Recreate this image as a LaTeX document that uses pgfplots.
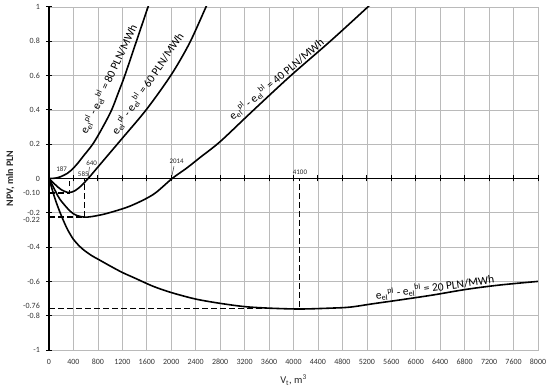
\documentclass[border=0pt]{standalone}
\usepackage{fontspec}
\setmainfont{Carlito}
\usepackage{pgfplots}
\pgfplotsset{compat=1.18}
\newcommand{\dif}[1]{e\textsubscript{el}\textsuperscript{pl} - e\textsubscript{el}\textsuperscript{bl} = #1 PLN/MWh}
\begin{document}
\begin{tikzpicture}
\begin{axis}[
  name=ax,
  scale only axis, width=489bp, height=343bp,
  xmin=0, xmax=8000, ymin=-1, ymax=1,
  xtick={0,400,...,8000},
  ytick={-1,-0.8,-0.6,-0.4,-0.2,0,0.2,0.4,0.6,0.8,1},
  yticklabels={-1,-0.8,-0.6,-0.4,-0.2,0,0.2,0.4,0.6,0.8,1},
  extra y ticks={-0.085,-0.24,-0.74},
  extra y tick labels={-0.10,-0.22,-0.76},
  extra y tick style={grid=none},
  grid=major, grid style={black!27, line width=0.7pt},
  axis line style={black!27, line width=0.7pt},
  tick style={draw=none},
  /pgf/number format/assume math mode=true,
  /pgf/number format/1000 sep={},
  ticklabel style={font=\fontsize{8}{9}\selectfont, text=black!80},
  xticklabel style={anchor=center, yshift=-12bp},
  yticklabel style={anchor=east, inner sep=0pt, xshift=-9bp},
  xlabel={V\textsubscript{t}, m\textsuperscript{3}},
  xlabel style={at={(axis description cs:0.5,-0.0875)}, anchor=center, font=\fontsize{10.5}{12}\selectfont, text=black!85},
  ylabel={NPV, mln PLN},
  ylabel style={at={(axis description cs:-0.079,0.5)}, anchor=center, rotate=0, font=\bfseries\fontsize{10}{12}\selectfont, text=black!85},
  clip=true,
]
% 80 PLN/MWh
\addplot[black, line width=1.6pt, smooth, tension=0.5] coordinates {
(0,0) (100,0.002) (187,0.01) (300,0.03) (371,0.05) (461,0.085) (561,0.13) (725,0.205) (888,0.305) (1025,0.40) (1134,0.50) (1240,0.60) (1430,0.80) (1620,1.0) (1700,1.08)};
% 60 PLN/MWh
\addplot[black, line width=1.6pt, smooth, tension=0.5] coordinates {
(0,0) (100,-0.035) (200,-0.065) (320,-0.082) (420,-0.072) (520,-0.045) (640,0) (760,0.05) (950,0.13) (1200,0.235) (1600,0.405) (2000,0.605) (2300,0.79) (2568,1.0) (2650,1.06)};
% 40 PLN/MWh
\addplot[black, line width=1.6pt, smooth, tension=0.5] coordinates {
(0,0) (100,-0.07) (180,-0.122) (344,-0.19) (450,-0.215) (575,-0.225) (700,-0.222) (943,-0.204) (1325,-0.161) (1706,-0.093) (2014,0) (2250,0.06) (2470,0.122) (2800,0.215) (3290,0.38) (3940,0.595) (4600,0.80) (5200,0.995) (5300,1.03)};
% 20 PLN/MWh
\addplot[black, line width=1.6pt, smooth, tension=0.5] coordinates {
(0,0) (100,-0.12) (200,-0.215) (300,-0.295) (400,-0.355) (500,-0.395) (580,-0.42) (700,-0.45) (800,-0.47) (1000,-0.51) (1200,-0.548) (1400,-0.58) (1700,-0.628) (2000,-0.665) (2400,-0.703) (2800,-0.728) (3200,-0.747) (3600,-0.756) (4100,-0.761) (4600,-0.756) (4924,-0.75) (5306,-0.73) (5742,-0.708) (6287,-0.679) (6833,-0.646) (7378,-0.621) (8000,-0.6)};
% dashed guides
\addplot[black, line width=1.3pt, dash pattern=on 5.5bp off 3.5bp] coordinates {(0,-0.085) (330,-0.085) (330,0)};
\addplot[black, line width=1.3pt, dash pattern=on 5.5bp off 3.5bp] coordinates {(0,-0.225) (585,-0.225) (585,0)};
\addplot[black, line width=1.3pt, dash pattern=on 5.5bp off 3.5bp] coordinates {(0,-0.757) (4100,-0.757) (4100,0)};
% pointers
\addplot[black!80, line width=0.5pt] coordinates {(662,0.068) (642,0.01)};
\addplot[black!80, line width=0.5pt] coordinates {(2045,0.072) (2004,0.004)};
% value labels
\node[font=\fontsize{7}{8}\selectfont, text=black!85] at (axis cs:207,0.054) {187};
\node[font=\fontsize{7}{8}\selectfont, text=black!85] at (axis cs:561,0.026) {585};
\node[font=\fontsize{7}{8}\selectfont, text=black!85] at (axis cs:698,0.088) {640};
\node[font=\fontsize{7}{8}\selectfont, text=black!85] at (axis cs:2088,0.10) {2014};
\node[font=\fontsize{7}{8}\selectfont, text=black!85] at (axis cs:4106,0.036) {4100};
% curve labels
\node[rotate=65, font=\fontsize{11.5}{12}\selectfont] at (axis cs:975,0.58) {\dif{80}};
\node[rotate=56, font=\fontsize{11.5}{12}\selectfont] at (axis cs:1611,0.555) {\dif{60}};
\node[rotate=40, anchor=south, inner sep=1.5pt, font=\fontsize{11.5}{12}\selectfont] at (axis cs:3800,0.545) {\dif{40}};
\node[rotate=8, anchor=south, inner sep=1pt, font=\fontsize{11.5}{12}\selectfont] at (axis cs:6330,-0.676) {\dif{20}};
\end{axis}
\begin{axis}[
  scale only axis, width=489bp, height=343bp,
  xmin=0, xmax=8000, ymin=-1, ymax=1,
  axis lines=middle, axis line style={black, line width=1.5pt, -},
  xtick={400,800,...,8000}, ytick={-1,-0.8,-0.6,-0.4,-0.2,0.2,0.4,0.6,0.8,1},
  xticklabels={}, yticklabels={},
  major tick length=6bp, tick style={black, line width=1pt},
]
\end{axis}
\pgfresetboundingbox
\path ([shift={(-49bp,-42bp)}]ax.south west) rectangle ([shift={(12bp,7bp)}]ax.north east);
\end{tikzpicture}
\end{document}
